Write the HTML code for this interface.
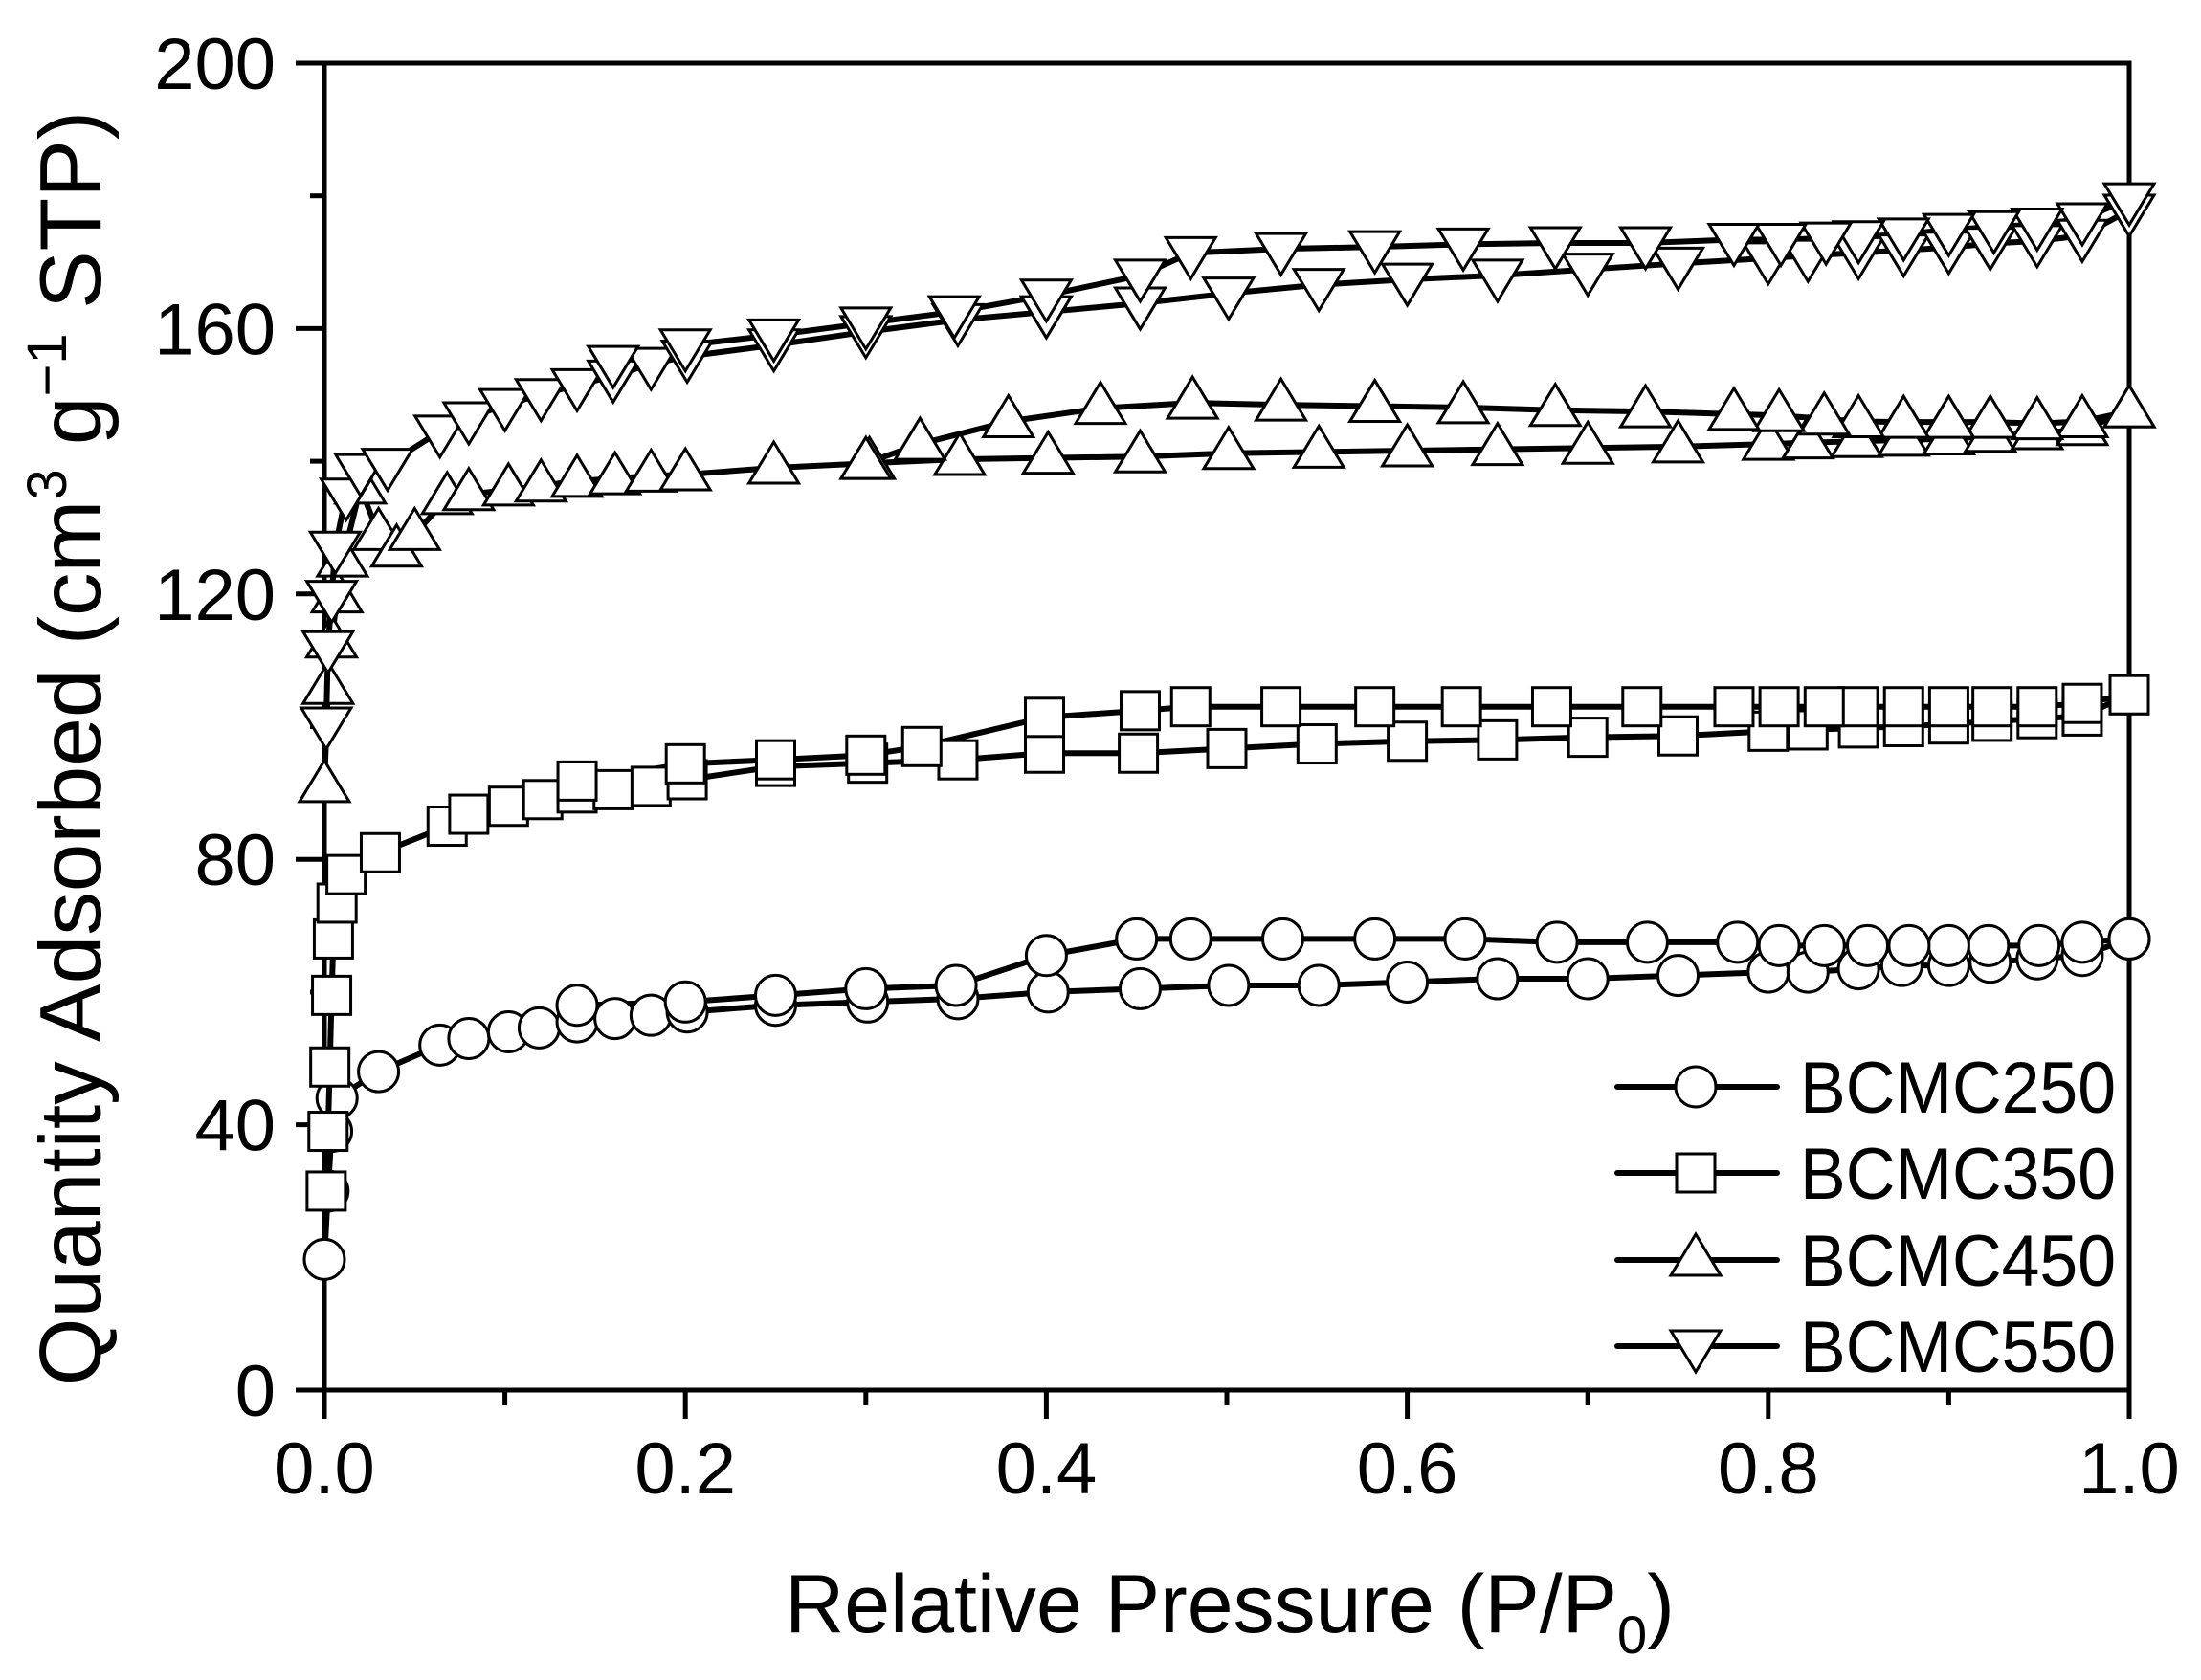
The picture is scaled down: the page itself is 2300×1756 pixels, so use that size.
<!DOCTYPE html>
<html><head><meta charset="utf-8"><style>
html,body{margin:0;padding:0;background:#fff;}
svg{display:block;font-family:"Liberation Sans",Arial,sans-serif;}
</style></head><body>
<svg id="chart" width="2300" height="1756" viewBox="0 0 2300 1756" xmlns="http://www.w3.org/2000/svg">
<g id="axes"></g>
<g id="series"></g>
<g id="legend"></g>
<text x="1285" y="1706" font-size="86" text-anchor="middle">Relative Pressure (P/P<tspan font-size="56" dy="22">0</tspan><tspan dy="-22">)</tspan></text>
<text transform="translate(105,782) rotate(-90)" font-size="91" text-anchor="middle">Quantity Adsorbed (cm<tspan font-size="58" dy="-36">3</tspan><tspan dy="36"> g</tspan><tspan font-size="58" dy="-36">−1</tspan><tspan dy="36"> STP)</tspan></text>
</svg>
<script>
const xTicks=[0,0.2,0.4,0.6,0.8,1.0];
const xTickLabels=["0.0","0.2","0.4","0.6","0.8","1.0"];
const yTicks=[0,40,80,120,160,200];
const yTickLabels=["0","40","80","120","160","200"];
const seriesNames=["BCMC250","BCMC350","BCMC450","BCMC550"];
const s250AdsX=[0,0.002,0.004,0.007,0.03,0.064,0.08,0.102,0.119,0.14,0.161,0.181,0.201,0.25,0.301,0.351,0.401,0.452,0.501,0.551,0.6,0.65,0.7,0.75,0.8,0.822,0.85,0.874,0.9,0.923,0.949,0.974,1.0];
const s250AdsY=[19.7,30,39,44,48,52,53,54,54.6,55.5,56,56.5,57,58,58.5,59,60,60.5,61,61,61.5,62,62,62.5,63,63,63.5,64,64,64.5,65,65.5,68];
const s250DesX=[1.0,0.974,0.95,0.922,0.9,0.878,0.855,0.831,0.806,0.783,0.733,0.683,0.632,0.582,0.531,0.48,0.45,0.4,0.35,0.3,0.25,0.2,0.14];
const s250DesY=[68,67.5,67,67,67,67,67,67,67,67.5,67.5,67.5,68,68,68,68,68,65.5,61,60.5,59.5,58.5,58];
const s350AdsX=[0.001,0.002,0.003,0.004,0.005,0.007,0.012,0.031,0.068,0.08,0.102,0.121,0.14,0.16,0.181,0.201,0.25,0.301,0.351,0.399,0.451,0.5,0.55,0.6,0.65,0.7,0.75,0.8,0.822,0.85,0.875,0.9,0.924,0.949,0.974,1.0];
const s350AdsY=[30,39,48.7,59.5,68,73.4,77.7,81,85,86.8,88,89,90,90.5,91,92,94,94.5,95,96,96,96.7,97.4,97.8,98,98.4,98.6,99.3,99.5,99.8,100,100.4,100.8,101.2,101.6,104.8];
const s350DesX=[1.0,0.974,0.949,0.924,0.9,0.875,0.85,0.831,0.806,0.781,0.73,0.68,0.63,0.582,0.53,0.48,0.452,0.399,0.331,0.3,0.25,0.2,0.14];
const s350DesY=[104.8,103.5,103,103,103,103,103,103,103,103,103,103,103,103,103,103,102.4,101.4,97,95.7,95,94.4,91.8];
const s450AdsX=[0,0.002,0.004,0.007,0.01,0.02,0.03,0.04,0.05,0.068,0.08,0.102,0.12,0.14,0.161,0.181,0.2,0.249,0.302,0.352,0.401,0.452,0.501,0.551,0.6,0.65,0.7,0.75,0.8,0.822,0.849,0.875,0.9,0.923,0.949,0.974,1.0];
const s450AdsY=[91,105.8,112.8,119.6,125,136,129,126.5,129,134.4,135,135.7,136.3,137,137.4,137.8,138,139,139.7,140.3,140.5,140.7,141.2,141.4,141.6,141.8,142,142.2,142.6,142.8,143,143.2,143.4,143.8,144.2,144.8,147.5];
const s450DesX=[1.0,0.974,0.949,0.923,0.9,0.875,0.85,0.831,0.806,0.781,0.732,0.682,0.631,0.582,0.53,0.481,0.43,0.379,0.33,0.3];
const s450DesY=[147.5,146,145.7,145.9,145.9,145.9,146,146.4,146.9,147.1,147.5,147.7,148.1,148.3,148.5,148.8,148,146,142.6,139.7];
const s550AdsX=[0.001,0.002,0.004,0.006,0.012,0.02,0.035,0.064,0.08,0.1,0.12,0.14,0.16,0.181,0.201,0.249,0.3,0.351,0.4,0.452,0.501,0.551,0.6,0.65,0.7,0.75,0.8,0.822,0.85,0.875,0.9,0.923,0.949,0.974,1.0];
const s550AdsY=[100.5,112,119.6,127,135,138.7,139.5,144.5,146.5,148.5,150,151.5,152.8,154.7,155.8,157.5,159.5,161.3,162.5,163.8,165.3,166.6,167.4,168,168.9,169.8,170.6,171,171.4,171.8,172.2,172.8,173.2,174,177.8];
const s550DesX=[1.0,0.974,0.949,0.925,0.9,0.875,0.85,0.832,0.807,0.781,0.732,0.682,0.631,0.582,0.53,0.48,0.452,0.4,0.349,0.3,0.249,0.2,0.16];
const s550DesY=[179.5,176.5,175.7,175.3,174.9,174.2,173.8,173.6,173.4,173.4,172.9,172.9,172.7,172.3,172,171.4,168,165,162.5,160.8,159,157.5,155];

const X0=339,X1=2225,Y0=1453,Y1=66;
function sx(v){return X0+(X1-X0)*v;}
function sy(v){return Y0-(Y0-Y1)*v/200;}
const NS="http://www.w3.org/2000/svg";
function mk(tag,parent){const e=document.createElementNS(NS,tag);parent.appendChild(e);return e;}
const axes=document.getElementById('axes');
const frame=mk('rect',axes);


frame.setAttribute('x',X0);frame.setAttribute('y',Y1);frame.setAttribute('width',X1-X0);frame.setAttribute('height',Y0-Y1);
frame.setAttribute('fill','none');frame.setAttribute('stroke','#000');frame.setAttribute('stroke-width','5');
xTicks.forEach((t,i)=>{
  const l=mk('line',axes);
  
  
  l.setAttribute('x1',sx(t));l.setAttribute('x2',sx(t));l.setAttribute('y1',Y0);l.setAttribute('y2',Y0+30);l.setAttribute('stroke','#000');l.setAttribute('stroke-width','5');
  if(i<xTicks.length-1){const m=mk('line',axes);
  
  
  const mv=(t+xTicks[i+1])/2;m.setAttribute('x1',sx(mv));m.setAttribute('x2',sx(mv));m.setAttribute('y1',Y0);m.setAttribute('y2',Y0+16);m.setAttribute('stroke','#000');m.setAttribute('stroke-width','5');}
  const tx=mk('text',axes);
  
  
  tx.setAttribute('x',sx(t));tx.setAttribute('y',1561);tx.setAttribute('font-size','76');tx.setAttribute('text-anchor','middle');tx.textContent=xTickLabels[i];
});
yTicks.forEach((t,i)=>{
  const l=mk('line',axes);
  
  
  l.setAttribute('x1',X0-30);l.setAttribute('x2',X0);l.setAttribute('y1',sy(t));l.setAttribute('y2',sy(t));l.setAttribute('stroke','#000');l.setAttribute('stroke-width','5');
  if(i<yTicks.length-1){const m=mk('line',axes);
  
  
  const mv=(t+yTicks[i+1])/2;m.setAttribute('x1',X0-15);m.setAttribute('x2',X0);m.setAttribute('y1',sy(mv));m.setAttribute('y2',sy(mv));m.setAttribute('stroke','#000');m.setAttribute('stroke-width','5');}
  const tx=mk('text',axes);
  
  
  tx.setAttribute('x',288);tx.setAttribute('y',sy(t)+27);tx.setAttribute('font-size','76');tx.setAttribute('text-anchor','end');tx.textContent=yTickLabels[i];
});
function marker(parent,type,x,y){
  let e;
  if(type==='circle'){e=mk('circle',parent);e.setAttribute('cx',x);e.setAttribute('cy',y);e.setAttribute('r',21);}
  else if(type==='square'){e=mk('rect',parent);e.setAttribute('x',x-20);e.setAttribute('y',y-20);e.setAttribute('width',40);e.setAttribute('height',40);}
  else if(type==='up'){e=mk('polygon',parent);e.setAttribute('points',`${x},${y-27} ${x-26},${y+16} ${x+26},${y+16}`);}
  else {e=mk('polygon',parent);e.setAttribute('points',`${x},${y+27} ${x-26},${y-16} ${x+26},${y-16}`);}
  e.setAttribute('fill','#fff');e.setAttribute('stroke','#000');e.setAttribute('stroke-width','3');
  return e;
}
const sg=document.getElementById('series');
const defs=[[s250AdsX,s250AdsY,s250DesX,s250DesY,'circle','bcmc250'],[s350AdsX,s350AdsY,s350DesX,s350DesY,'square','bcmc350'],[s450AdsX,s450AdsY,s450DesX,s450DesY,'up','bcmc450'],[s550AdsX,s550AdsY,s550DesX,s550DesY,'down','bcmc550']];
defs.forEach(d=>{
  const g=mk('g',sg);
  
  
  [[d[0],d[1],'adsorption'],[d[2],d[3],'desorption']].forEach(b=>{
    const p=mk('polyline',g);
    
    
    p.setAttribute('points',b[0].map((x,i)=>sx(x)+','+sy(b[1][i])).join(' '));
    p.setAttribute('fill','none');p.setAttribute('stroke','#000');p.setAttribute('stroke-width','6');p.setAttribute('stroke-linejoin','round');
  });
  [[d[0],d[1]],[d[2],d[3]]].forEach(b=>{
    b[0].forEach((x,i)=>{const m=marker(g,d[4],sx(x),sy(b[1][i]));
      
      });
  });
});
const lg=document.getElementById('legend');
const types=['circle','square','up','down'];
const rowsY=[1136,1226,1317,1407];
seriesNames.forEach((n,i)=>{
  const y=rowsY[i];
  const l=mk('line',lg);
  
  
  l.setAttribute('x1',1690);l.setAttribute('x2',1857);l.setAttribute('y1',y);l.setAttribute('y2',y);l.setAttribute('stroke','#000');l.setAttribute('stroke-width','6');l.setAttribute('stroke-linecap','round');
  const m=marker(lg,types[i],1772,y);
  
  
  const t=mk('text',lg);
  
  
  t.setAttribute('x',1881);t.setAttribute('y',y+27);t.setAttribute('font-size','76');t.setAttribute('textLength','330');t.setAttribute('lengthAdjust','spacingAndGlyphs');t.textContent=n;
});
</script>
</body></html>
